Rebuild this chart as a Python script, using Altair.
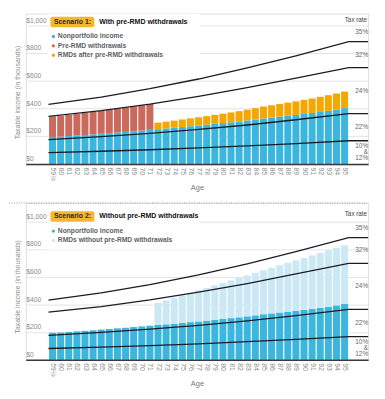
import altair as alt
import pandas as pd

# ---------------- data ----------------
ages = ["59½"] + [str(a) for a in range(60, 96)]

nonportfolio = [196, 198, 202, 206, 210, 214, 219, 223, 228, 232,
                237, 242, 247, 252, 257, 262, 267, 273, 278, 284,
                290, 296, 302, 308, 315, 322, 330, 336, 342, 349,
                355, 362, 369, 376, 384, 394, 404]
pre_rmd = [149, 150, 153, 156, 159, 163, 165, 169, 172, 176, 180, 183, 187] + [0] * 24
rmd_after = [0] * 13 + [47, 49, 52, 55, 57, 60, 62, 65, 68, 71,
                        74, 78, 82, 86, 89, 92, 95, 98, 102, 105,
                        110, 114, 116, 120]
rmd_without = [0] * 13 + [160, 173, 186, 199, 211, 225, 237, 249, 261, 273,
                          285, 296, 308, 318, 330, 342, 353, 365, 376, 387,
                          399, 409, 417, 425]

bracket_ages = ["59½", "65", "71", "77", "83", "89", "95"]
bracket_12 = [82, 92, 103, 116, 131, 148, 168]
bracket_22 = [177, 198, 222, 250, 282, 320, 365]
bracket_24 = [345, 386, 434, 490, 552, 622, 698]
bracket_32 = [432, 484, 545, 615, 695, 783, 885]
rate_labels = ["35%", "32%", "24%", "22%", "10%\n&\n12%"]

y_ticks = [0, 200, 400, 600, 800, 1000]

scenario_tags = ["Scenario 1:", "Scenario 2:"]
scenario_titles = ["With pre-RMD withdrawals", "Without pre-RMD withdrawals"]
all_series = ["Nonportfolio income", "Pre-RMD withdrawals",
              "RMDs after pre-RMD withdrawals", "RMDs without pre-RMD withdrawals"]
names_1 = all_series[:3]
names_2 = [all_series[0], all_series[3]]

# ---------------- styling ----------------
FONT = "Liberation Sans"
BLUE, RED, ORANGE, LIGHT = "#3BB6DE", "#CB6A5C", "#F5A700", "#CBE9F4"
ALL_COLORS = [BLUE, RED, ORANGE, LIGHT]
LINE = "#1c1c28"
GRAY = "#8c8c8c"
GAP = 0.07
X_MIN, X_MAX = -2.8, 39.4
W = 347
RATE_LH = 6

label_expr = "[" + ",".join("'%s'" % a for a in ages) + "][floor(datum.value)]"


def bar_frame(names, value_lists):
    rows = []
    base = [0.0] * len(ages)
    for name, vals in zip(names, value_lists):
        for i, v in enumerate(vals):
            if v > 0:
                rows.append({"series": name, "age": ages[i], "x": i + GAP,
                             "x2": i + 1 - GAP, "y0": base[i], "y1": base[i] + v})
                base[i] += v
    return pd.DataFrame(rows)


def line_frame():
    rows = []
    n = len(ages)
    for name, vals in [("12%", bracket_12), ("22%", bracket_22),
                       ("24%", bracket_24), ("32%", bracket_32)]:
        for a, v in zip(bracket_ages, vals):
            i = ages.index(a)
            pos = 0 if i == 0 else (n if i == n - 1 else i + 0.5)
            rows.append({"bracket": name, "x": pos, "y0": v})
        rows.append({"bracket": name, "x": X_MAX, "y0": vals[-1]})
    return pd.DataFrame(rows)


def rate_frame():
    edges = [1020, bracket_32[-1], bracket_24[-1], bracket_22[-1], bracket_12[-1], 0]
    mids = [(edges[k] + edges[k + 1]) / 2 for k in range(len(rate_labels))]
    nlines = [lab.count("\n") + 1 for lab in rate_labels]
    return pd.DataFrame({"label": rate_labels, "y0": mids, "x": [X_MAX] * len(rate_labels),
                         "lines": nlines})


def const_text(s, x, y, **kw):
    return alt.Chart(pd.DataFrame({"t": [s]})).mark_text(
        font=FONT, **kw).encode(x=alt.value(x), y=alt.value(y), text="t:N")


def panel(k, names, value_lists, height, ymax, head_y, ytitle_y, separator):
    colors = [ALL_COLORS[all_series.index(n)] for n in names]
    xs = alt.Scale(domain=[X_MIN, X_MAX], nice=False, zero=False)
    ys = alt.Scale(domain=[0, ymax], nice=False, zero=False)
    x_axis = alt.Axis(values=[i + 0.5 for i in range(len(ages))], labelExpr=label_expr,
                      labelAngle=90, labelFontSize=7, labelColor=GRAY, labelFont=FONT,
                      labelPadding=3, labelFlush=False, labelOverlap=False,
                      ticks=False, tickSize=0, grid=False, domain=True,
                      domainColor="#3a3a3a", domainWidth=1.5, zindex=1,
                      title="Age", titleFont=FONT, titleFontSize=7.5,
                      titleFontWeight="normal", titleColor="#777777", titlePadding=3)
    y_axis = alt.Axis(values=y_ticks, labelExpr="'$' + format(datum.value, ',')",
                      labelAlign="left", labelBaseline="alphabetic", labelPadding=0,
                      labelOffset=-3.5, tickSize=0, ticks=False, domain=False, grid=True,
                      gridColor="#e4e4e4", gridWidth=1, labelFontSize=6.8,
                      labelColor=GRAY, labelFont=FONT,
                      title="Taxable income (in thousands)", titleFont=FONT,
                      titleFontSize=7, titleFontWeight="normal", titleColor=GRAY,
                      titleX=-8, titleY=ytitle_y, titleBaseline="middle")
    X = alt.X("x:Q", scale=xs, axis=x_axis)
    Y = alt.Y("y0:Q", scale=ys, axis=y_axis)

    bars = alt.Chart(bar_frame(names, value_lists)).mark_rect().encode(
        x=X, x2="x2:Q", y=Y, y2="y1:Q",
        color=alt.Color("series:N", scale=alt.Scale(domain=all_series, range=ALL_COLORS),
                        legend=None),
    )
    lines = alt.Chart(line_frame()).mark_line(color=LINE, strokeWidth=1.3).encode(
        x=X, y=Y, detail="bracket:N",
    )
    rdf = rate_frame()
    rate_kw = dict(align="right", baseline="middle", font=FONT, fontSize=6.5,
                   color="#666666", lineBreak="\n", lineHeight=RATE_LH)
    rates1 = alt.Chart(rdf[rdf["lines"] == 1]).mark_text(**rate_kw).encode(
        x=X, y=Y, text="label:N")
    rates3 = alt.Chart(rdf[rdf["lines"] == 3]).mark_text(dy=-RATE_LH, **rate_kw).encode(
        x=X, y=Y, text="label:N")
    layers = [bars, lines, rates1, rates3]

    # white backing behind the heading/legend block
    layers.append(alt.Chart(pd.DataFrame({"t": [0]})).mark_rect(color="white").encode(
        x=alt.value(22), x2=alt.value(176), y=alt.value(head_y - 8), y2=alt.value(head_y + 34)))
    # scenario tag box + heading
    layers.append(alt.Chart(pd.DataFrame({"t": [0]})).mark_rect(
        color="#F7B530", cornerRadius=2).encode(
        x=alt.value(25), x2=alt.value(69.5), y=alt.value(head_y - 5), y2=alt.value(head_y + 5.5)))
    layers.append(const_text(scenario_tags[k], 28.5, head_y, align="left", baseline="middle",
                             fontSize=7, fontWeight="bold", color="#2a2a2a"))
    layers.append(const_text(scenario_titles[k], 74.5, head_y, align="left", baseline="middle",
                             fontSize=7.1, fontWeight="bold", color="#111111"))
    layers.append(const_text("Tax rate", 346, head_y - 2, align="right", baseline="middle",
                             fontSize=6.4, color="#444444"))
    # legend
    for j, (nm, col) in enumerate(zip(names, colors)):
        yy = head_y + 15 + 9.5 * j
        layers.append(alt.Chart(pd.DataFrame({"t": [nm]})).mark_circle(
            color=col, opacity=1, size=11).encode(x=alt.value(28), y=alt.value(yy)))
        layers.append(const_text(nm, 32.5, yy, align="left", baseline="middle",
                                 fontSize=6.8, fontWeight="bold", color="#5a5f66"))
    if separator:
        layers.append(alt.Chart(pd.DataFrame({"t": [0]})).mark_rule(
            color="#9a9a9a", strokeDash=[1, 1.5], strokeWidth=1).encode(
            x=alt.value(-17), x2=alt.value(346), y=alt.value(0)))

    return alt.layer(*layers).properties(width=W, height=height)


top = panel(0, names_1, [nonportfolio, pre_rmd, rmd_after], 152.5, 1089, 8.3, 79.5, False)
bottom = panel(1, names_2, [nonportfolio, rmd_without], 159, 1136, 13.5, 84.5, True)

chart = alt.vconcat(top, bottom, spacing=10).properties(
    padding={"left": 0, "top": 2, "right": 5, "bottom": 0}
).configure_view(strokeWidth=0).configure(font=FONT)

chart.save("out.html", embed_options={"renderer": "svg", "actions": False})
